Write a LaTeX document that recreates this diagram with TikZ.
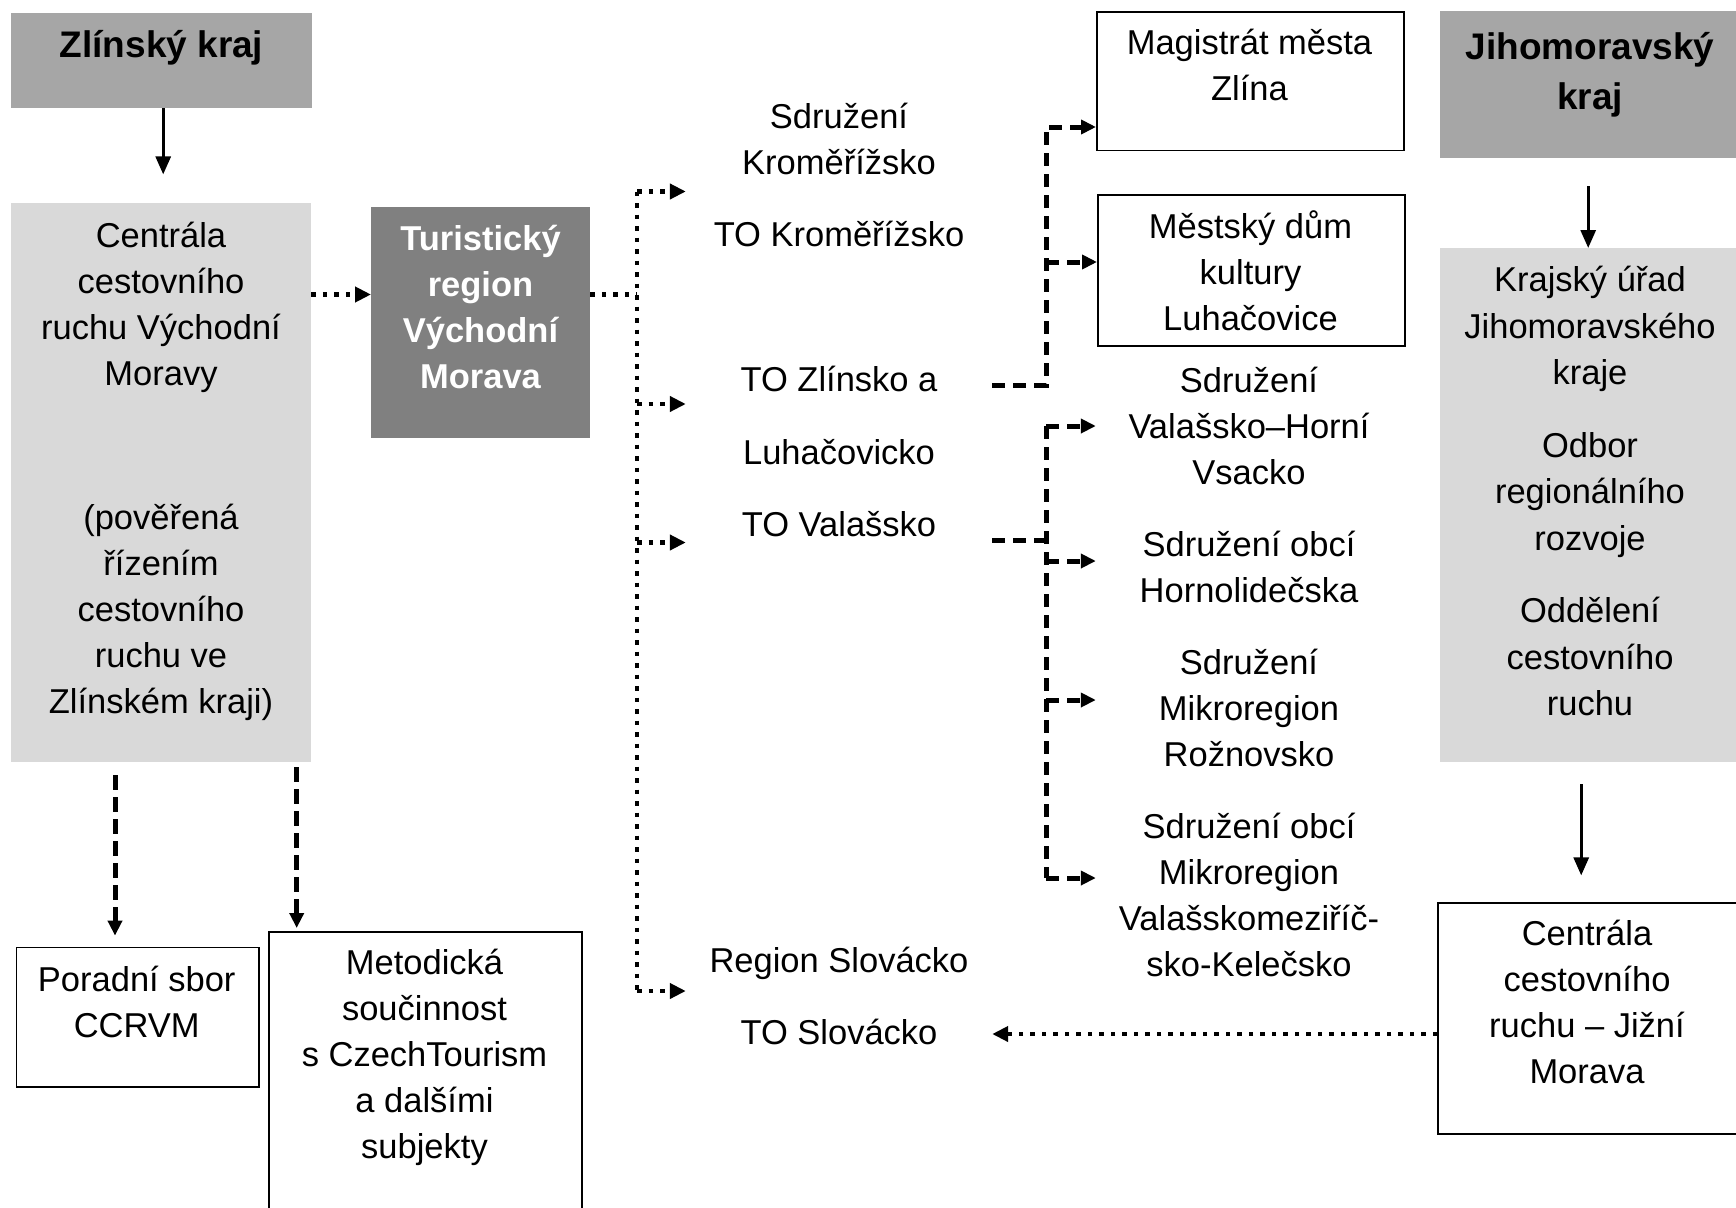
\documentclass[tikz,border=0pt]{standalone}
\usepackage{fontspec}
\setmainfont{Liberation Sans}
\usetikzlibrary{arrows.meta,calc}

\definecolor{hdrgray}{HTML}{A6A6A6}
\definecolor{palegray}{HTML}{D9D9D9}
\definecolor{midgray}{HTML}{808080}

% struts that fix the height of the first line of a text block
\newcommand\lnstrut{\rule[-13.8pt]{0pt}{46pt}}
\newcommand\hdstrut{\rule[-15pt]{0pt}{50pt}}

\begin{document}
\begin{tikzpicture}[x=1pt,y=-1pt,
  txt/.style={align=center, inner sep=0pt, anchor=north,
    font=\fontsize{34.5}{46}\selectfont, execute at begin node=\lnstrut},
  hdr/.style={align=center, inner sep=0pt, anchor=north,
    font=\fontsize{37}{50}\selectfont\bfseries, execute at begin node=\hdstrut},
  col/.style={txt, minimum width=306pt},
  panel/.style={anchor=north west, inner sep=0pt, draw=none},
  frame/.style={anchor=north west, inner sep=0pt, draw=black, line width=1.8pt},
  solidarr/.style={line width=3pt, -{Triangle[length=18pt,width=15pt]}},
  dotline/.style={line width=4.5pt, dash pattern=on 4.5pt off 7pt},
  dotarr/.style={dotline, -{Triangle[length=16pt,width=15pt]}},
  dashline/.style={line width=5pt, dash pattern=on 13pt off 8pt},
  dasharr/.style={dashline, -{Triangle[length=15pt,width=14pt]}},
  longdash/.style={line width=5pt, dash pattern=on 15pt off 7pt, -{Triangle[length=15pt,width=14pt]}},
]
\useasboundingbox (0,0) rectangle (1736,1207);

% ---------- Zlínský kraj ----------
\node[panel, fill=hdrgray, minimum width=301pt, minimum height=95pt] (zk) at (11,13) {};
\node[hdr] (zkt) at (161.5,22) {Zlínský kraj};

\node[panel, fill=palegray, minimum width=300pt, minimum height=559pt] (ccvm) at (11,203) {};
\node[txt] (ccvmt) at (161,221.7) {Centrála\\cestovního\\ruchu Východní\\Moravy\\[98pt](pověřená\\řízením\\cestovního\\ruchu ve\\Zlínském kraji)};

\node[panel, fill=midgray, minimum width=219pt, minimum height=231pt] (trvm) at (371,207) {};
\node[txt, font=\fontsize{34.5}{46}\selectfont\bfseries, text=white] (trvmt) at (480.5,225) {Turistický\\region\\Východní\\Morava};

\node[frame, minimum width=242.5pt, minimum height=139.4pt] (por) at (15.5,946.6) {};
\node[txt] (port) at (136.75,965.7) {Poradní sbor\\CCRVM};

\node[frame, minimum width=313pt, minimum height=320pt] (met) at (268,931) {};
\node[txt] (mett) at (424.5,949) {Metodická\\součinnost\\s CzechTourism\\a dalšími\\subjekty};

% ---------- tourist areas ----------
\node[col] (kro) at (839,103) {Sdružení\\Kroměřížsko\\[25.6pt]TO Kroměřížsko};
\node[col] (zl) at (839,365.6) {TO Zlínsko a\\[27pt]Luhačovicko};
\node[col] (val) at (839,503.7) {TO Valašsko};
\node[col] (slo) at (839,947) {Region Slovácko\\[25.8pt]TO Slovácko};

% ---------- local bodies ----------
\node[frame, minimum width=307pt, minimum height=138.5pt] (mag) at (1096,11) {};
\node[txt] (magt) at (1249.5,29) {Magistrát města\\Zlína};
\node[frame, minimum width=307pt, minimum height=151pt] (mest) at (1097,194) {};
\node[txt] (mestt) at (1250.5,210.6) {Městský dům\\kultury\\Luhačovice};

\node[col] (vhv) at (1249,366.7) {Sdružení\\Valašsko–Horní\\Vsacko};
\node[col] (hor) at (1249,530.6) {Sdružení obcí\\Hornolidečska};
\node[col] (roz) at (1249,649) {Sdružení\\Mikroregion\\Rožnovsko};
\node[col] (vmk) at (1249,813) {Sdružení obcí\\Mikroregion\\Valašskomeziříč-\\sko-Kelečsko};

% ---------- Jihomoravský kraj ----------
\node[panel, fill=hdrgray, minimum width=296pt, minimum height=147pt] (jmk) at (1440,11) {};
\node[hdr] (jmkt) at (1590,32.4) {Jihomoravský\\kraj};
\node[panel, fill=palegray, minimum width=296pt, minimum height=514pt] (kuj) at (1440,248) {};
\node[txt, font=\fontsize{34.5}{46.5}\selectfont] (kujt) at (1590,266) {Krajský úřad\\Jihomoravského\\kraje\\[26pt]Odbor\\regionálního\\rozvoje\\[26pt]Oddělení\\cestovního\\ruchu};
\node[frame, minimum width=315pt, minimum height=231pt] (ccjm) at (1437,902) {};
\node[txt] (ccjmt) at (1587,920) {Centrála\\cestovního\\ruchu – Jižní\\Morava};

% ---------- connectors ----------
\draw[solidarr] ([xshift=1.5pt]zk.south) -- ++(0,66);
\draw[solidarr] ([yshift=-28pt]jmk.south) -- (kuj.north);
\draw[solidarr] ([xshift=-7pt,yshift=-22pt]kuj.south) -- ++(0,91);

\coordinate (d1) at (115,775);
\coordinate (d2) at (296.7,767);
\draw[longdash, shorten >=11pt] (d1) -- (d1 |- por.north);
\draw[longdash, shorten >=3pt] (d2) -- (d2 |- met.north);

\coordinate (hy) at (0,294.5);
\draw[dotarr] (ccvm.east |- hy) -- (trvm.west |- hy);
\coordinate (bj) at (637,294.5);
\draw[dotline] (trvm.east |- hy) -- (bj);
\coordinate (b1) at (637,191.5);
\coordinate (b2) at (637,404);
\coordinate (b3) at (637,542.5);
\coordinate (b4) at (637,991);
\draw[dotline] (b1) -- (b4);
\draw[dotarr] (b1) -- (b1 -| kro.west);
\draw[dotarr] (b2) -- (b2 -| zl.west);
\draw[dotarr] (b3) -- (b3 -| val.west);
\draw[dotarr] (b4) -- (b4 -| slo.west);

\coordinate (jz) at (1046,385);
\coordinate (jzt) at (1046,127);
\coordinate (jzm) at (1046,262);
\draw[dasharr] (zl.east |- jz) -- (jz) -- (jzt) -- (jzt -| mag.west);
\draw[dasharr] (jzm) -- (jzm -| mest.west);

\coordinate (jv) at (1046,540);
\coordinate (v1) at (1046,426);
\coordinate (v2) at (1046,561);
\coordinate (v3) at (1046,700);
\coordinate (v4) at (1046,878);
\draw[dashline] (val.east |- jv) -- (jv);
\draw[dashline] (v1) -- (v4);
\draw[dasharr] (v1) -- (v1 -| vhv.west);
\draw[dasharr] (v2) -- (v2 -| hor.west);
\draw[dasharr] (v3) -- (v3 -| roz.west);
\draw[dasharr] (v4) -- (v4 -| vmk.west);

\coordinate (sy) at (0,1034);
\draw[dotarr] (ccjm.west |- sy) -- (slo.east |- sy);
\end{tikzpicture}
\end{document}
